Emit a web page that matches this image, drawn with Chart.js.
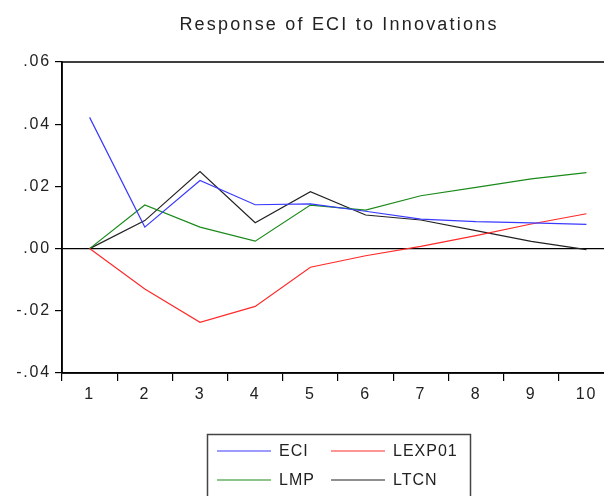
<!DOCTYPE html>
<html>
<head>
<meta charset="utf-8">
<style>
  html, body { margin: 0; padding: 0; background: #fff; overflow: hidden; }
  #wrap { position: relative; width: 620px; height: 496px; }
</style>
<script src="https://cdn.jsdelivr.net/npm/chart.js@4.4.1/dist/chart.umd.min.js"></script>
</head>
<body>
<div id="wrap"><canvas id="c" width="620" height="496"></canvas></div>
<script>
const periods = ['1', '2', '3', '4', '5', '6', '7', '8', '9', '10'];
const eci    = [0.0422, 0.0069, 0.0219, 0.0141, 0.0144, 0.0120, 0.0095, 0.0087, 0.0083, 0.0078];
const lexp01 = [0.0000, -0.0130, -0.0237, -0.0186, -0.0060, -0.0023, 0.0007, 0.0042, 0.0079, 0.0112];
const lmp    = [0.0000, 0.0140, 0.0069, 0.0024, 0.0140, 0.0124, 0.0170, 0.0197, 0.0224, 0.0244];
const ltcn   = [0.0000, 0.0090, 0.0248, 0.0083, 0.0183, 0.0108, 0.0092, 0.0058, 0.0023, -0.0003];
const yTicks = [-0.04, -0.02, 0.00, 0.02, 0.04, 0.06];
const titleText = 'Response of ECI to Innovations';

const FONT = '"Liberation Sans", Arial, sans-serif';

function fmt(v) {
  const s = Math.abs(v).toFixed(2).replace(/^0/, '');
  return (v < -1e-9 ? '-' : '') + s;
}

const series = [
  { label: 'ECI',    data: eci,    color: '#3a3aff' },
  { label: 'LEXP01', data: lexp01, color: '#ff2a2a' },
  { label: 'LMP',    data: lmp,    color: '#1a8a1a' },
  { label: 'LTCN',   data: ltcn,   color: '#222222' }
];

// Frame, zero line, title and boxed legend
const decor = {
  id: 'decor',
  beforeDraw(chart) {
    // slightly tracked lettering for the axis labels
    chart.ctx.letterSpacing = '1.8px';
  },
  beforeDatasetsDraw(chart) {
    const { ctx, chartArea: a, scales } = chart;
    const y0 = scales.y.getPixelForValue(0);
    ctx.save();
    ctx.strokeStyle = '#000';
    ctx.lineWidth = 1.2;
    ctx.beginPath();
    ctx.moveTo(a.left, y0);
    ctx.lineTo(a.right, y0);
    ctx.stroke();
    ctx.restore();
  },
  afterDraw(chart) {
    const { ctx, chartArea: a } = chart;
    ctx.save();
    ctx.strokeStyle = '#000';
    ctx.lineWidth = 1.5;
    ctx.strokeRect(a.left, a.top, a.right - a.left, a.bottom - a.top);

    ctx.fillStyle = '#222';
    ctx.font = '18px ' + FONT;
    ctx.letterSpacing = '2.2px';
    ctx.textAlign = 'center';
    ctx.textBaseline = 'alphabetic';
    ctx.fillText(titleText, 339, 30);

    // legend
    ctx.strokeStyle = '#444';
    ctx.lineWidth = 1.5;
    ctx.strokeRect(207.5, 434.5, 263, 80);
    ctx.font = '16px ' + FONT;
    ctx.letterSpacing = '1px';
    ctx.textAlign = 'left';
    ctx.textBaseline = 'middle';
    const cols = [217, 331];
    const rows = [451, 480];
    series.forEach((s, i) => {
      const x = cols[i % 2];
      const y = rows[Math.floor(i / 2)];
      ctx.strokeStyle = s.color;
      ctx.lineWidth = 1.2;
      ctx.beginPath();
      ctx.moveTo(x, y);
      ctx.lineTo(x + 54, y);
      ctx.stroke();
      ctx.fillStyle = '#222';
      ctx.fillText(s.label, x + 62, y + 1);
    });
    ctx.restore();
  }
};

new Chart(document.getElementById('c'), {
  type: 'line',
  data: {
    labels: periods,
    datasets: series.map(s => ({
      label: s.label,
      data: s.data,
      borderColor: s.color,
      backgroundColor: s.color,
      borderWidth: 1.2,
      pointRadius: 0,
      tension: 0,
      fill: false
    }))
  },
  options: {
    responsive: false,
    animation: false,
    events: [],
    layout: { padding: { left: 0, top: 62, right: 6, bottom: 93 } },
    plugins: { legend: { display: false }, title: { display: false }, tooltip: { enabled: false } },
    scales: {
      x: {
        type: 'category',
        offset: true,
        grid: { offset: true, drawOnChartArea: false, drawTicks: true, tickLength: 8, color: '#000', lineWidth: 1.2 },
        border: { display: true, color: '#000', width: 1.5 },
        ticks: { color: '#222', font: { family: FONT, size: 16 }, padding: 4, maxRotation: 0, autoSkip: false },
        afterFit(scale) { scale.height = 30; }
      },
      y: {
        min: -0.04,
        max: 0.06,
        afterBuildTicks(scale) { scale.ticks = yTicks.map(v => ({ value: v })); },
        grid: { drawOnChartArea: false, drawTicks: true, tickLength: 7, color: '#000', lineWidth: 1.2 },
        border: { display: true, color: '#000', width: 1.5 },
        ticks: { color: '#222', font: { family: FONT, size: 16 }, padding: 4, callback: v => fmt(v) },
        afterFit(scale) { scale.width = 62; }
      }
    }
  },
  plugins: [decor]
});
</script>
</body>
</html>
